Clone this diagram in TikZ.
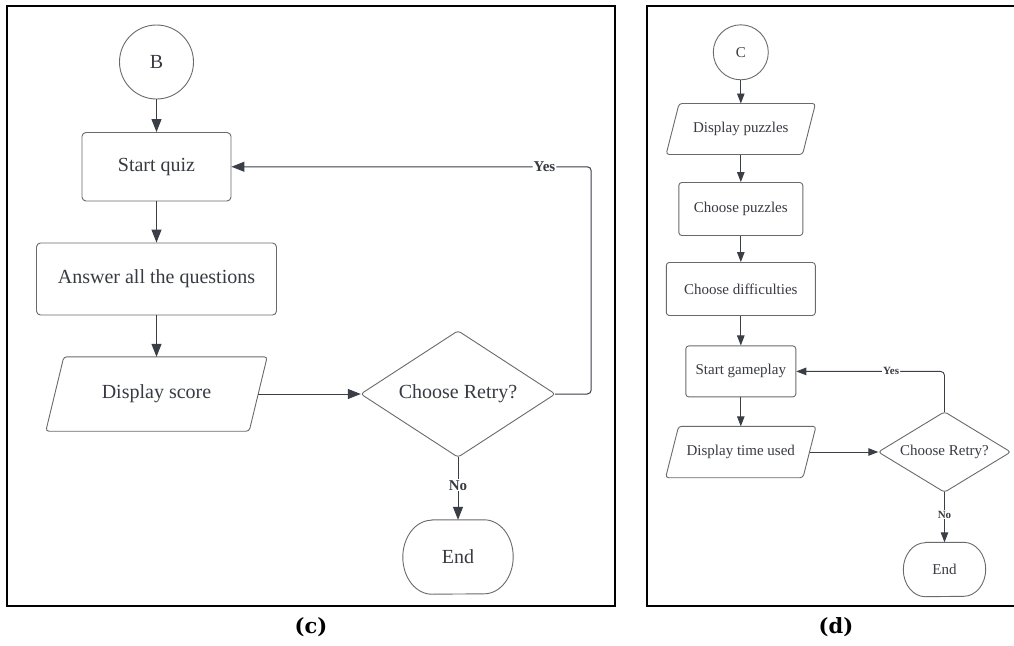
\documentclass[tikz,border=0pt]{standalone}
\usepackage{fontspec}
\setmainfont{Liberation Serif}
\newfontfamily\capfont{DejaVu Serif}
\usetikzlibrary{arrows.meta}

\definecolor{ink}{HTML}{3A3F47}
\definecolor{edge}{HTML}{6A6A6A}
\definecolor{txt}{HTML}{383B42}

\tikzset{
  bigtext/.style={font=\fontsize{20}{24}\selectfont, text=txt},
  smalltext/.style={font=\fontsize{15}{18}\selectfont, text=txt},
  edgeline/.style={draw=edge, line width=0.9pt},
  procbox/.style={edgeline, rounded corners=4pt, inner sep=0pt},
  startcirc/.style={edgeline, circle, inner sep=0pt},
  shell/.style={inner sep=0pt},
  flow/.style={draw=ink, line width=1pt, -{Triangle[length=13pt,width=10pt]}},
  flowsm/.style={draw=ink, line width=0.9pt, -{Triangle[length=10pt,width=7.5pt]}},
  lbl/.style={fill=white, inner sep=1pt, text=txt, font=\bfseries\fontsize{15}{18}\selectfont},
  lblsm/.style={fill=white, inner sep=1pt, text=txt, font=\bfseries\fontsize{11}{13}\selectfont},
  frame/.style={draw=black, line width=1.4pt},
  caption/.style={font=\capfont\bfseries\fontsize{21}{25}\selectfont, text=black},
}

% parallelogram drawn around a shell node (#2 = half of the slant)
\newcommand{\parashape}[2]{%
  \draw[edgeline, rounded corners=3pt]
    ([xshift=#2]#1.north west) -- ([xshift=#2]#1.north east) --
    ([xshift=-#2]#1.south east) -- ([xshift=-#2]#1.south west) -- cycle;}
% decision diamond through the four side anchors of a shell node
\newcommand{\diashape}[1]{%
  \draw[edgeline, rounded corners=3pt]
    (#1.north) -- (#1.east) -- (#1.south) -- (#1.west) -- cycle;}
% terminator with elliptic ends (#2 = x radius, #3 = y radius)
\newcommand{\stadium}[3]{%
  \draw[edgeline]
    ([xshift=#2]#1.north west) -- ([xshift=-#2]#1.north east)
    arc[start angle=90, end angle=-90, x radius=#2, y radius=#3]
    -- ([xshift=#2]#1.south west)
    arc[start angle=270, end angle=90, x radius=#2, y radius=#3] -- cycle;}

\begin{document}
\begin{tikzpicture}[x=1pt, y=-1pt]
\clip (0,0) rectangle (1014,645);
\fill[white] (0,0) rectangle (1014,645);

% ---------- panel (c): quiz ----------
\draw[frame] (7,6) rectangle (615,606);

\node[startcirc, bigtext, minimum size=74pt] (b) at (156.5,62) {B};
\node[procbox, bigtext, minimum width=149pt, minimum height=68.5pt] (sq) at (156.5,166.75) {Start quiz};
\node[procbox, bigtext, minimum width=240pt, minimum height=72pt] (ans) at (156.5,279) {Answer all the questions};
\node[shell, bigtext, minimum width=203pt, minimum height=74pt] (ds) at (156.5,394) {Display score};
\parashape{ds}{9pt}
\node[shell, bigtext, minimum width=194pt, minimum height=126pt] (cr) at (458,394) {Choose Retry?};
\diashape{cr}
\node[shell, bigtext, minimum width=110pt, minimum height=74pt] (end) at (458,557) {End};
\stadium{end}{29pt}{37pt}

\draw[flow] (b.south) -- (sq.north);
\draw[flow] (sq.south) -- (ans.north);
\draw[flow] (ans.south) -- (ds.north);
\draw[flow] (ds.east) -- (cr.west);
\draw[flow, rounded corners=4pt] (cr.east) -- ++(36,0) |- node[lbl, pos=0.565] {Yes} (sq.east);
\draw[flow] (cr.south) -- node[lbl, pos=0.45] {No} (end.north);

\node[caption] (capc) at (311,627) {(c)};

% ---------- panel (d): puzzles ----------
\draw[frame] (647,6) rectangle (1030,606);

\node[startcirc, smalltext, minimum size=55pt] (c) at (740.8,52.3) {C};
\node[shell, smalltext, minimum width=136pt, minimum height=50.6pt] (dp) at (740.8,129) {Display puzzles};
\parashape{dp}{6.5pt}
\node[procbox, smalltext, rounded corners=3pt, minimum width=124pt, minimum height=53pt] (cp) at (740.8,209) {Choose puzzles};
\node[procbox, smalltext, rounded corners=3pt, minimum width=149pt, minimum height=53pt] (cd) at (740.8,289) {Choose difficulties};
\node[procbox, smalltext, rounded corners=3pt, minimum width=110pt, minimum height=51pt] (sg) at (740.8,371.4) {Start gameplay};
\node[shell, smalltext, minimum width=137pt, minimum height=51pt] (dt) at (740.8,452) {Display time used};
\parashape{dt}{6.5pt}
\node[shell, smalltext, minimum width=132pt, minimum height=80pt] (cr2) at (944.5,452) {Choose Retry?};
\diashape{cr2}
\node[shell, smalltext, minimum width=82pt, minimum height=54pt] (end2) at (944.5,569.5) {End};
\stadium{end2}{22pt}{27pt}

\draw[flowsm] (c.south) -- (dp.north);
\draw[flowsm] (dp.south) -- (cp.north);
\draw[flowsm] (cp.south) -- (cd.north);
\draw[flowsm] (cd.south) -- (sg.north);
\draw[flowsm] (sg.south) -- (dt.north);
\draw[flowsm] (dt.east) -- (cr2.west);
\draw[flowsm, rounded corners=4pt] (cr2.north) |- node[lblsm, pos=0.68] {Yes} (sg.east);
\draw[flowsm] (cr2.south) -- node[lblsm, pos=0.45] {No} (end2.north);

\node[caption] (capd) at (836,627) {(d)};
\end{tikzpicture}
\end{document}
